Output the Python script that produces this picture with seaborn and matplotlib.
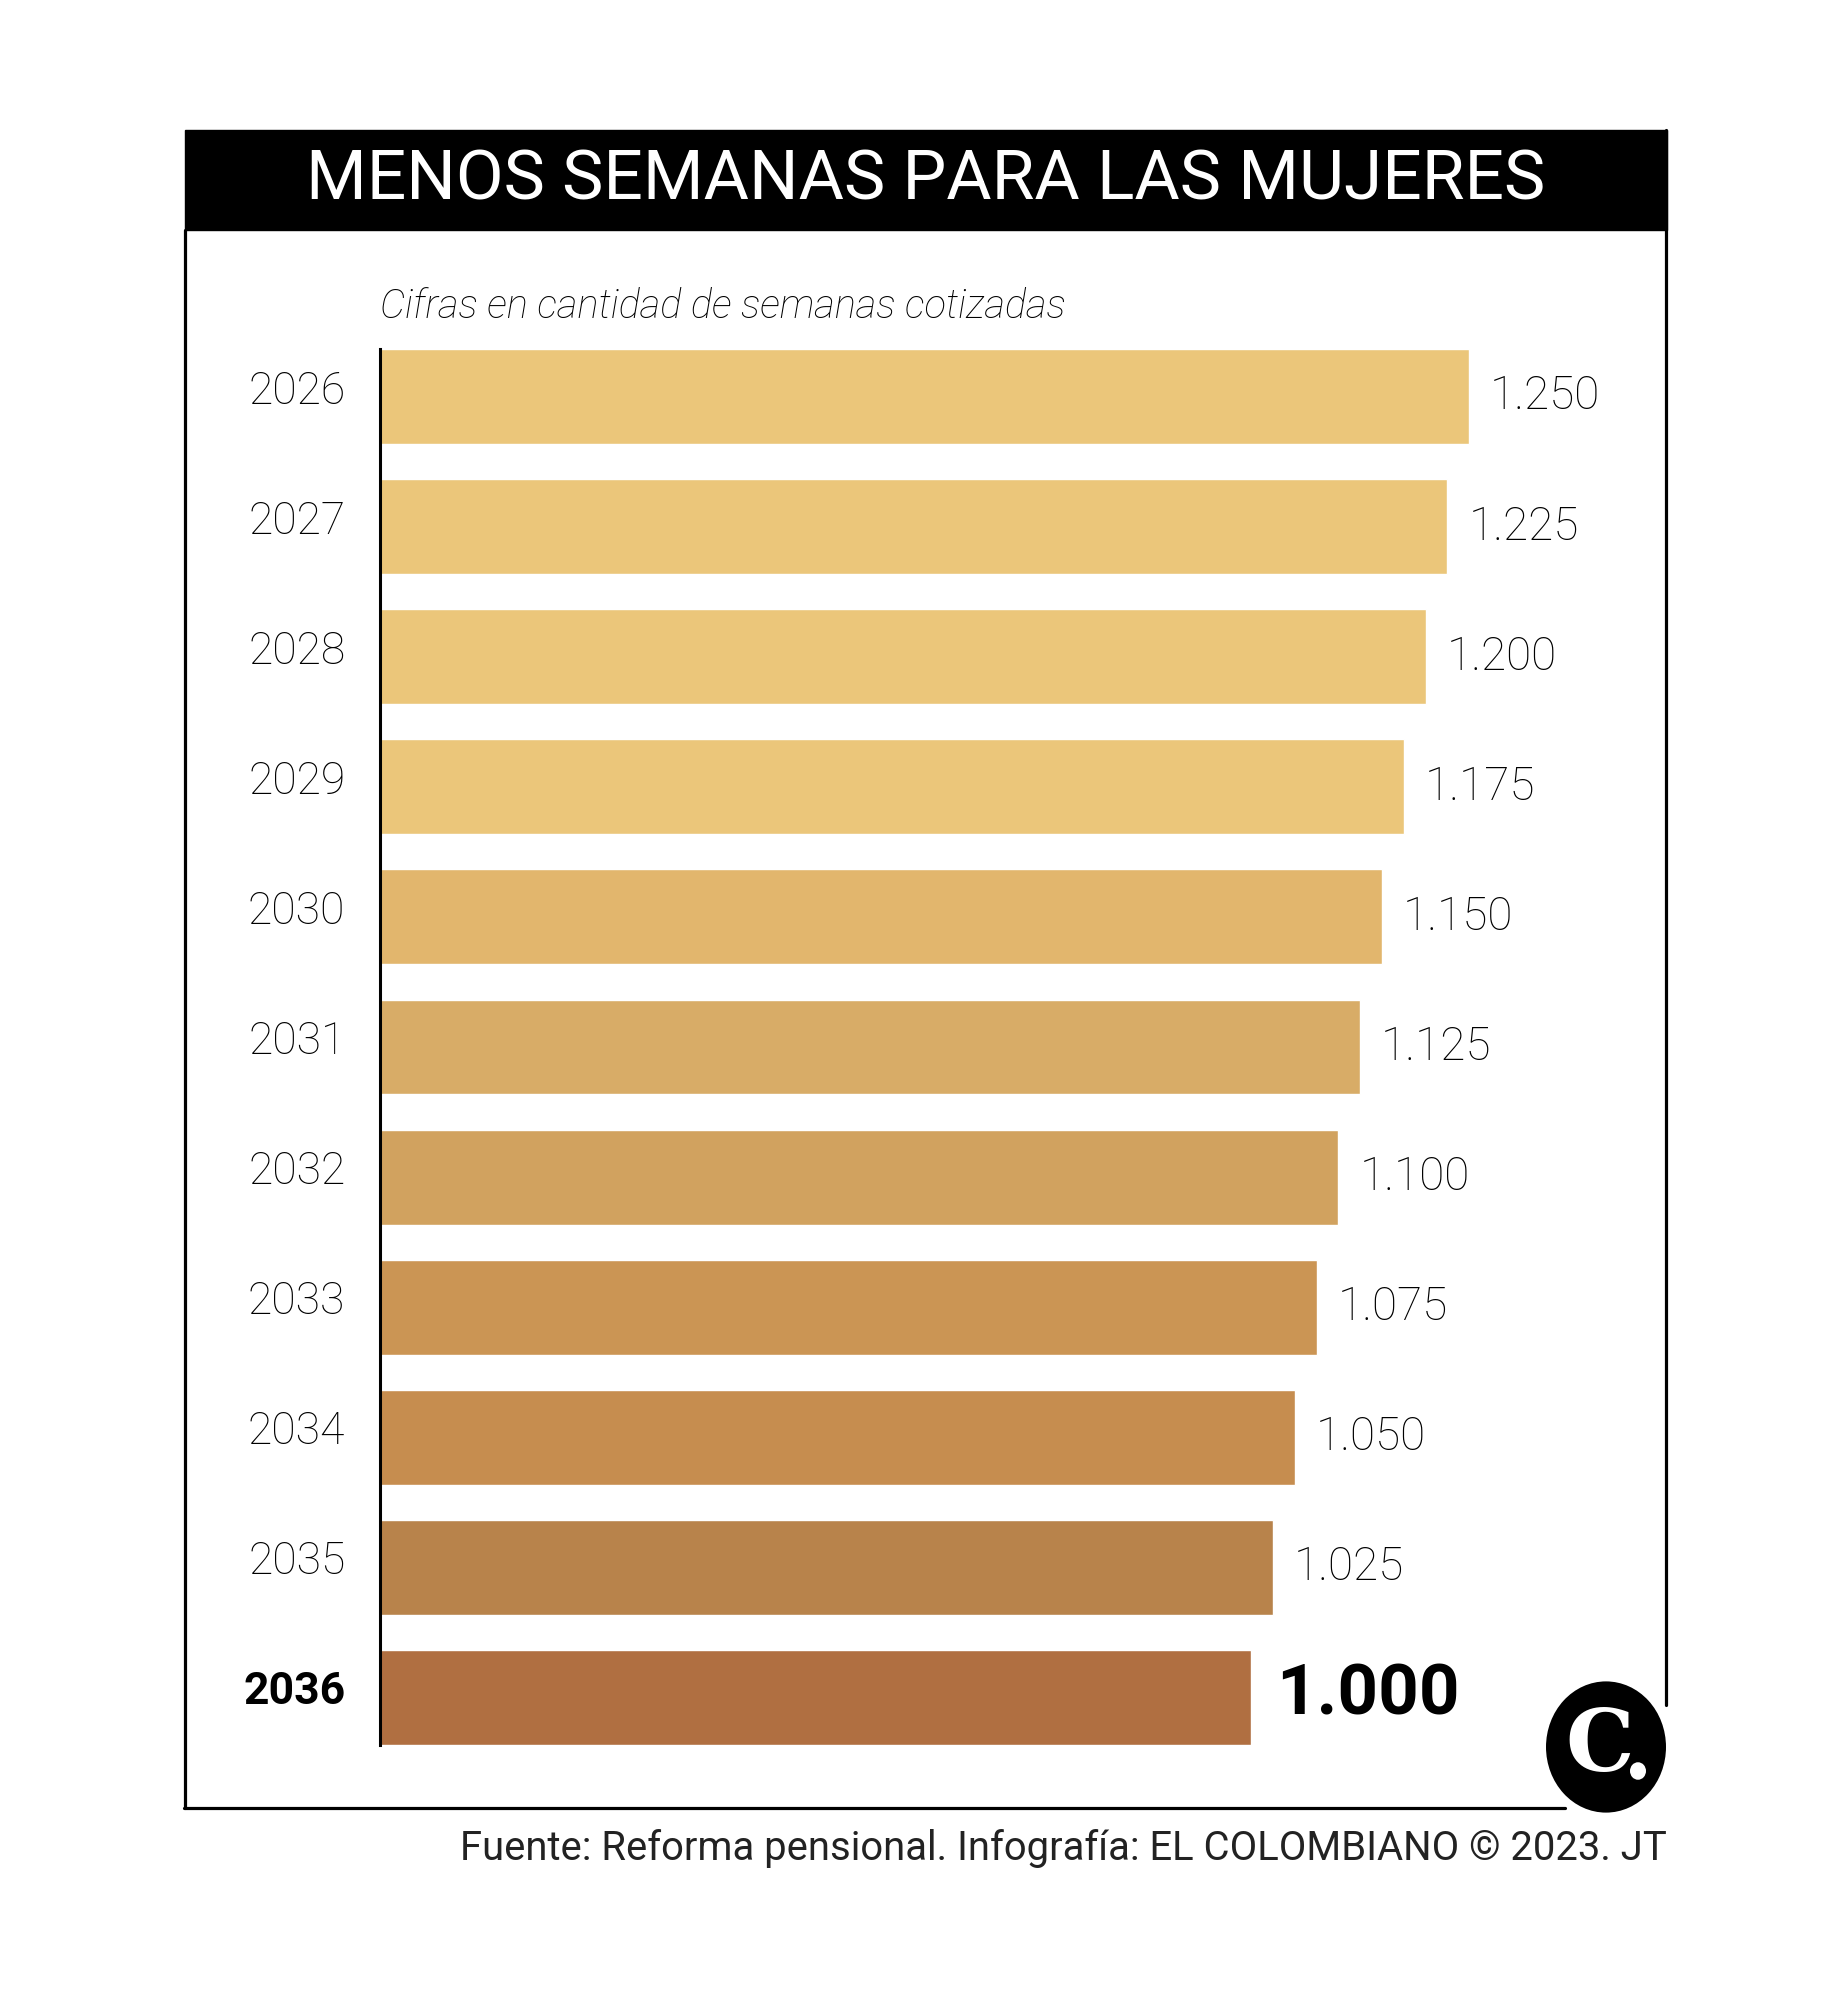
import matplotlib
matplotlib.use("Agg")
import matplotlib.pyplot as plt
from matplotlib import font_manager
from matplotlib.patches import Rectangle, Circle
from matplotlib.lines import Line2D
import seaborn as sns
import pandas as pd

# Data
years = ["2026", "2027", "2028", "2029", "2030", "2031", "2032", "2033", "2034", "2035", "2036"]
weeks = [1250, 1225, 1200, 1175, 1150, 1125, 1100, 1075, 1050, 1025, 1000]
value_labels = ["1.250", "1.225", "1.200", "1.175", "1.150", "1.125", "1.100", "1.075", "1.050", "1.025", "1.000"]
bar_colors = ["#EBC67A", "#EBC67A", "#EBC67A", "#EBC67A", "#E2B66D", "#D8AC67",
              "#D1A25F", "#CB9554", "#C68D4F", "#B8834B", "#B06F41"]

title = "MENOS SEMANAS PARA LAS MUJERES"
subtitle = "Cifras en cantidad de semanas cotizadas"
source = "Fuente: Reforma pensional. Infografía: EL COLOMBIANO © 2023. JT"

df = pd.DataFrame({"year": years, "weeks": weeks})

sns.set_theme(style="white")
installed = {f.name for f in font_manager.fontManager.ttflist}
narrow = "Liberation Sans Narrow" if "Liberation Sans Narrow" in installed else "Roboto"
plt.rcParams["font.family"] = [narrow, "DejaVu Sans"]

W, H = 1829, 2000
fig = plt.figure(figsize=(W / 100, H / 100), dpi=100)
fig.patch.set_facecolor("white")


def fx(px):
    return px / W


def fy(py):
    return 1 - py / H


# axes placed in pixel geometry of the reference
ax = fig.add_axes([fx(380), fy(1745), fx(1667) - fx(380), fy(349) - fy(1745)])
sns.barplot(data=df, x="weeks", y="year", hue="year", palette=bar_colors,
            legend=False, width=0.73, saturation=1, ax=ax, orient="h")
ax.set_xlim(0, 1477)
ax.set_ylim(len(years) - 1 + 0.365, -0.365)
ax.set_facecolor("none")
for s in ["top", "right", "bottom"]:
    ax.spines[s].set_visible(False)
ax.spines["left"].set_color("black")
ax.spines["left"].set_linewidth(2.2)
ax.set_xticks([])
ax.set_xlabel("")
ax.set_ylabel("")
ax.set_yticks([])

# year labels, slightly above the bar centre like the original
for i, y in enumerate(years):
    bold = i == len(years) - 1
    ax.text(-0.027, i - 0.04, y, transform=ax.get_yaxis_transform(), ha="right", va="center",
            fontsize=32, fontweight="bold" if bold else "light", color="black")

for i, (v, lab) in enumerate(zip(weeks, value_labels)):
    if i == len(weeks) - 1:
        ax.text(v + 28, i - 0.02, lab, va="center", ha="left", fontsize=51,
                fontweight="bold", color="black")
    else:
        ax.text(v + 24, i, lab, va="center", ha="left", fontsize=33,
                fontweight="light", color="black")

# frame and title band
lw = 2.3
fig.add_artist(Rectangle((fx(185), fy(230)), fx(1667) - fx(185), fy(130) - fy(230),
                         transform=fig.transFigure, facecolor="black", edgecolor="black"))
fig.add_artist(Line2D([fx(185), fx(185)], [fy(230), fy(1808)], transform=fig.transFigure,
                      color="black", lw=lw))
fig.add_artist(Line2D([fx(1666), fx(1666)], [fy(130), fy(1705)], transform=fig.transFigure,
                      color="black", lw=lw))
fig.add_artist(Line2D([fx(184), fx(1565)], [fy(1808), fy(1808)], transform=fig.transFigure,
                      color="black", lw=lw))

fig.text(fx(926), fy(180), title, ha="center", va="center", fontsize=50, color="white")
fig.text(fx(380), fy(307), subtitle, ha="left", va="center", fontsize=28.7,
         style="italic", fontweight="light", color="black")
fig.text(fx(1667), fy(1848), source, ha="right", va="center", fontsize=28.8,
         fontweight="normal", color="#222222")

# logo
fig.add_artist(Circle((fx(1606), fy(1747)), 60 / W, transform=fig.transFigure,
                      facecolor="black", edgecolor="none"))
fig.text(fx(1600), fy(1747), "C", ha="center", va="center", fontsize=62,
         fontweight="bold", family=["DejaVu Serif"], color="white")
fig.add_artist(Circle((fx(1638), fy(1771)), 8 / W, transform=fig.transFigure,
                      facecolor="white", edgecolor="none"))

fig.savefig("out.png", dpi=100, facecolor="white")
